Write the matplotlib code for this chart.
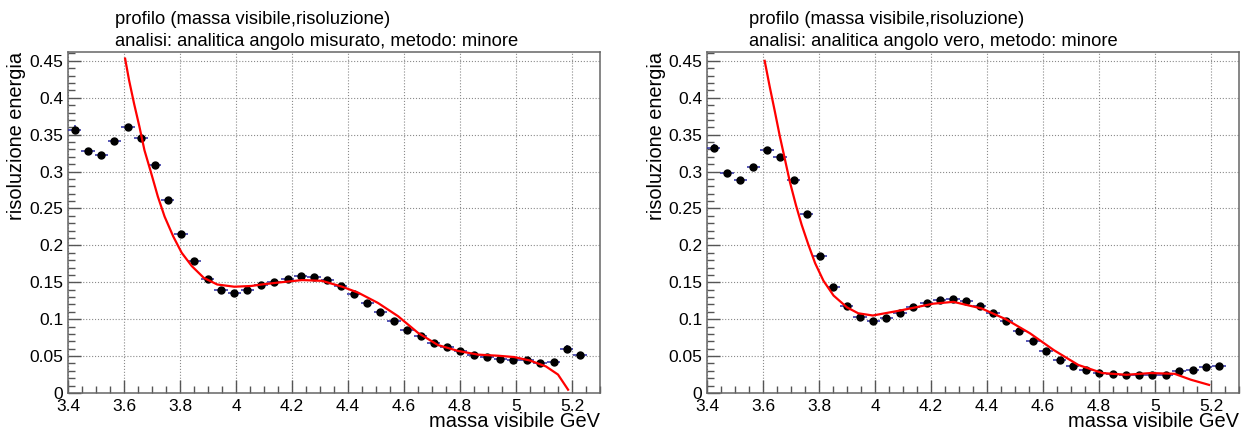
import matplotlib.pyplot as plt
from matplotlib.ticker import MultipleLocator, FuncFormatter

plt.rcParams['font.family'] = ['Liberation Sans', 'DejaVu Sans']

# === Dati: profilo (massa visibile, risoluzione) ===
massa = [3.424, 3.471, 3.519, 3.566, 3.614, 3.661, 3.709, 3.756, 3.804, 3.851,
         3.899, 3.946, 3.994, 4.041, 4.089, 4.136, 4.184, 4.231, 4.279, 4.326,
         4.374, 4.421, 4.469, 4.516, 4.564, 4.611, 4.659, 4.706, 4.754, 4.801,
         4.849, 4.896, 4.944, 4.991, 5.039, 5.086, 5.134, 5.181, 5.229]
mezzo_bin = 0.02375

ris_misurato = [0.357, 0.328, 0.323, 0.341, 0.361, 0.346, 0.309, 0.262, 0.215, 0.179,
                0.155, 0.140, 0.136, 0.139, 0.146, 0.151, 0.155, 0.158, 0.157, 0.153,
                0.145, 0.134, 0.122, 0.110, 0.098, 0.086, 0.077, 0.068, 0.062, 0.057,
                0.052, 0.049, 0.046, 0.045, 0.045, 0.041, 0.042, 0.060, 0.051]
err_misurato = [0.006, 0.004, 0.003, 0.003, 0.003, 0.003, 0.003, 0.003, 0.002, 0.002,
                0.002, 0.002, 0.002, 0.002, 0.002, 0.002, 0.002, 0.002, 0.002, 0.002,
                0.002, 0.002, 0.002, 0.002, 0.002, 0.002, 0.002, 0.002, 0.002, 0.002,
                0.002, 0.002, 0.002, 0.002, 0.002, 0.003, 0.003, 0.005, 0.005]

ris_vero = [0.332, 0.298, 0.288, 0.306, 0.329, 0.320, 0.289, 0.242, 0.185, 0.143,
            0.118, 0.103, 0.098, 0.102, 0.108, 0.116, 0.122, 0.126, 0.127, 0.124,
            0.118, 0.108, 0.097, 0.084, 0.070, 0.057, 0.045, 0.037, 0.031, 0.027,
            0.026, 0.025, 0.025, 0.024, 0.024, 0.030, 0.031, 0.035, 0.036]
err_vero = [0.005, 0.004, 0.003, 0.003, 0.003, 0.003, 0.003, 0.002, 0.002, 0.002,
            0.002, 0.002, 0.002, 0.002, 0.002, 0.002, 0.002, 0.002, 0.002, 0.002,
            0.002, 0.002, 0.002, 0.002, 0.002, 0.002, 0.002, 0.002, 0.002, 0.002,
            0.002, 0.002, 0.002, 0.002, 0.002, 0.002, 0.002, 0.003, 0.003]

# curve di fit
fit_misurato_x = [3.604, 3.618, 3.636, 3.655, 3.673, 3.697, 3.721, 3.745, 3.776, 3.806,
                  3.842, 3.885, 3.933, 3.994, 4.055, 4.091, 4.150, 4.236, 4.307, 4.379,
                  4.436, 4.507, 4.579, 4.650, 4.721, 4.793, 4.864, 4.936, 4.993, 5.050,
                  5.107, 5.150, 5.186]
fit_misurato_y = [0.453, 0.424, 0.392, 0.361, 0.329, 0.298, 0.266, 0.239, 0.212, 0.190,
                  0.172, 0.156, 0.147, 0.144, 0.145, 0.147, 0.1496, 0.153, 0.152, 0.144,
                  0.136, 0.122, 0.104, 0.0815, 0.065, 0.057, 0.052, 0.0505, 0.0487, 0.044,
                  0.036, 0.025, 0.0045]

fit_vero_x = [3.606, 3.624, 3.642, 3.660, 3.678, 3.696, 3.718, 3.738, 3.762, 3.786,
              3.816, 3.852, 3.900, 3.940, 3.992, 4.093, 4.208, 4.280, 4.381, 4.467,
              4.553, 4.639, 4.726, 4.812, 4.898, 4.984, 5.070, 5.128, 5.193]
fit_vero_y = [0.450, 0.415, 0.382, 0.348, 0.317, 0.286, 0.254, 0.228, 0.201, 0.176,
              0.152, 0.132, 0.116, 0.108, 0.105, 0.112, 0.121, 0.1235, 0.1145, 0.100,
              0.081, 0.058, 0.038, 0.027, 0.0247, 0.027, 0.026, 0.018, 0.011]

titolo = "profilo (massa visibile,risoluzione)"
sottotitoli = ["analisi: analitica angolo misurato, metodo: minore",
               "analisi: analitica angolo vero, metodo: minore"]

# === Figura ===
W, H = 1247, 436
fig = plt.figure(figsize=(W / 100, H / 100), dpi=100)

pannelli = [
    (68, 115, ris_misurato, err_misurato, fit_misurato_x, fit_misurato_y, sottotitoli[0]),
    (707, 749, ris_vero, err_vero, fit_vero_x, fit_vero_y, sottotitoli[1]),
]
top, bottom, width = 52, 393, 532

for x0, xt, ris, err, fx, fy, sotto in pannelli:
    ax = fig.add_axes([x0 / W, 1 - bottom / H, width / W, (bottom - top) / H])
    ax.errorbar(massa, ris, xerr=mezzo_bin, yerr=err, fmt='o', color='black',
                ms=5, ecolor='#2a2aa0', elinewidth=1.1, capsize=0, zorder=3)
    ax.plot(fx, fy, color='red', lw=1.6, zorder=4)

    ax.set_xlim(3.4, 5.3)
    ax.set_ylim(0, 0.462)
    ax.xaxis.set_major_locator(MultipleLocator(0.2))
    ax.xaxis.set_minor_locator(MultipleLocator(0.05))
    ax.yaxis.set_major_locator(MultipleLocator(0.05))
    ax.yaxis.set_minor_locator(MultipleLocator(0.01))
    fmt = FuncFormatter(lambda v, p: f"{v:g}")
    ax.xaxis.set_major_formatter(fmt)
    ax.yaxis.set_major_formatter(fmt)
    ax.tick_params(which='both', direction='in', color='#555555', labelsize=12.5,
                   top=False, right=False)
    ax.tick_params(which='major', length=9.5, width=1)
    ax.tick_params(which='minor', length=4.8, width=1)
    ax.tick_params(axis='y', pad=3.5)
    ax.tick_params(axis='x', pad=4)
    ax.grid(True, which='major', ls=':', color='#8a8a8a', lw=0.8, zorder=0)
    for s in ax.spines.values():
        s.set_color('#666666')
        s.set_linewidth(1.1)

    fig.text(xt / W, 1 - 24 / H, titolo, fontsize=13.2, ha='left', va='baseline')
    fig.text(xt / W, 1 - 46 / H, sotto, fontsize=13.2, ha='left', va='baseline')
    fig.text((x0 - 51) / W, 1 - top / H, "risoluzione energia", fontsize=14.4,
             rotation=90, ha='center', va='top')
    fig.text((x0 + width) / W, 1 - 421 / H, "massa visibile GeV", fontsize=14.4,
             ha='right', va='center')

fig.savefig("out.png", dpi=100)
